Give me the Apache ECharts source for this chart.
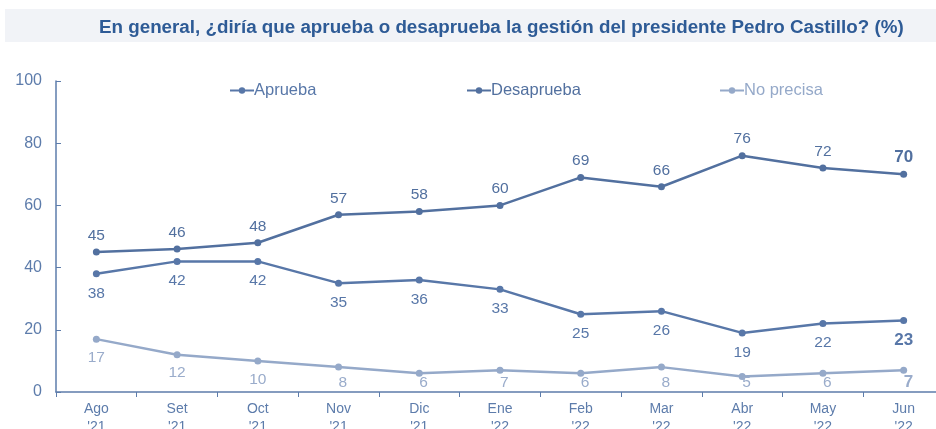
<!DOCTYPE html>
<html>
<head>
<meta charset="utf-8">
<script src="https://cdn.jsdelivr.net/npm/echarts@6/dist/echarts.min.js"></script>
<style>
  html, body { margin: 0; padding: 0; background: #fff; }
  #chart { width: 936px; height: 429px; }
</style>
</head>
<body>
<div id="chart"></div>
<script>
// Survey months
const months = ["Ago\n'21", "Set\n'21", "Oct\n'21", "Nov\n'21", "Dic\n'21", "Ene\n'22",
                "Feb\n'22", "Mar\n'22", "Abr\n'22", "May\n'22", "Jun\n'22"];
// Responses (%)
const aprueba    = [38, 42, 42, 35, 36, 33, 25, 26, 19, 22, 23];
const desaprueba = [45, 46, 48, 57, 58, 60, 69, 66, 76, 72, 70];
const noPrecisa  = [17, 12, 10, 8, 6, 7, 6, 8, 5, 6, 7];
const yTicks = [0, 20, 40, 60, 80, 100];

const axisColor = '#5d7cab';
const cAprueba = '#5877a8';
const cDesaprueba = '#52709f';
const cNoPrecisa = '#95a9c9';
const font = 'Liberation Sans, Arial, sans-serif';
const gridBottom = 37;

function seriesData(values, color) {
  const last = values.length - 1;
  return values.map((v, i) => i === last
    ? { value: v, label: { fontWeight: 'bold', fontSize: 17, color: color } }
    : v);
}

function makeSeries(name, values, color, labelColor, pos, dist) {
  return {
    name: name,
    type: 'line',
    data: seriesData(values, labelColor),
    smooth: false,
    symbol: 'circle',
    symbolSize: 7,
    lineStyle: { color: color, width: 2.5 },
    itemStyle: { color: color },
    label: {
      show: true,
      position: pos,
      distance: dist,
      color: labelColor,
      fontSize: 15.5,
      fontFamily: font
    }
  };
}

function legendAt(name, left, color) {
  return {
    top: 77,
    left: left,
    itemWidth: 24,
    itemHeight: 8,
    textStyle: { fontSize: 16.5, fontFamily: font, color: color, padding: [0, 0, 0, -5] },
    data: [name]
  };
}

const chart = echarts.init(document.getElementById('chart'), null, { renderer: 'canvas' });

// Keep labels below the lowest line inside the plot area
const noPrecisaSeries = makeSeries('No precisa', noPrecisa, cNoPrecisa, '#9aaccb', 'bottom', 7);
noPrecisaSeries.labelLayout = function (params) {
  const floor = chart.getHeight() - gridBottom - 1;
  const r = params.labelRect;
  if (r.y + r.height > floor) {
    return { y: floor - r.height };
  }
  return {};
};

chart.setOption({
  animation: false,
  graphic: [{
    type: 'rect',
    shape: { x: 5, y: 9, width: 931, height: 33 },
    style: { fill: '#f1f3f7' },
    z: -1
  }, {
    type: 'text',
    left: 99,
    top: 18,
    style: {
      text: 'En general, ¿diría que aprueba o desaprueba la gestión del presidente Pedro Castillo? (%)',
      font: 'bold 18.8px "Liberation Sans", Arial, sans-serif',
      fill: '#2e5b96'
    }
  }],
  legend: [
    legendAt('Aprueba', 224, cAprueba),
    legendAt('Desaprueba', 461, cDesaprueba),
    legendAt('No precisa', 714, cNoPrecisa)
  ],
  grid: { left: 56, right: -8, top: 81, bottom: gridBottom, containLabel: false, outerBoundsMode: 'none' },
  xAxis: {
    type: 'category',
    data: months,
    boundaryGap: true,
    axisLine: { lineStyle: { color: axisColor, width: 1.5 } },
    axisTick: { show: true, length: 5, lineStyle: { color: axisColor } },
    axisLabel: {
      color: axisColor,
      fontSize: 14,
      lineHeight: 18,
      margin: 8,
      fontFamily: font
    }
  },
  yAxis: {
    type: 'value',
    min: 0,
    max: 100,
    interval: 20,
    axisLine: { show: true, lineStyle: { color: axisColor, width: 1.5 } },
    axisTick: { show: true, inside: true, length: 5, lineStyle: { color: axisColor } },
    splitLine: { show: false },
    axisLabel: {
      color: axisColor,
      fontSize: 16,
      margin: 14,
      fontFamily: font,
      formatter: v => yTicks.includes(v) ? String(v) : ''
    }
  },
  series: [
    makeSeries('Aprueba', aprueba, cAprueba, '#5877a8', 'bottom', 8),
    makeSeries('Desaprueba', desaprueba, cDesaprueba, '#52709f', 'top', 5),
    noPrecisaSeries
  ]
});
</script>
</body>
</html>
